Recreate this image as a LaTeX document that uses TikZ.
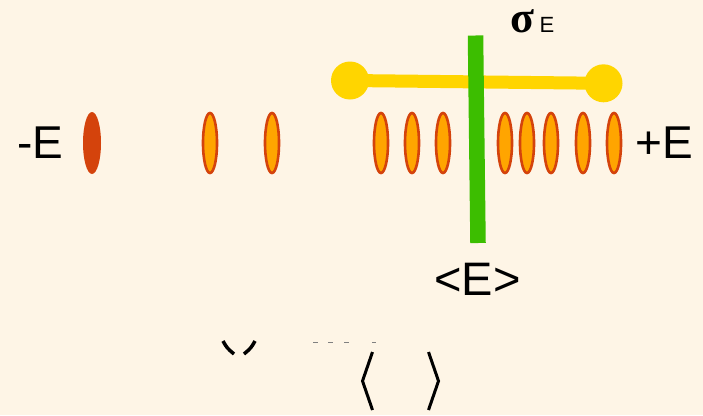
\documentclass[tikz,border=0pt]{standalone}
\usepackage{fontspec}
\setmainfont{Liberation Sans}
\newfontfamily\serifgreek{Liberation Serif}
\definecolor{bgc}{HTML}{FEF5E6}
\definecolor{ellfill}{HTML}{FFA500}
\definecolor{ellline}{HTML}{D4430C}
\definecolor{goldc}{HTML}{FFD500}
\definecolor{greenc}{HTML}{3CBE00}
\tikzset{
  cell/.style={ellipse, draw=ellline, line width=2.6pt, fill=ellfill, minimum width=14pt, minimum height=60pt, inner sep=0pt},
  darkcell/.style={ellipse, fill=ellline, minimum width=18pt, minimum height=62pt, inner sep=0pt},
  bigtxt/.style={font=\fontsize{46}{46}\selectfont, inner sep=0pt, anchor=base},
  glyph/.style={line width=3pt, line cap=butt, line join=miter},
}
\usetikzlibrary{shapes.geometric}
\begin{document}
\begin{tikzpicture}[x=1pt,y=-1pt]
\fill[bgc] (0,0) rectangle (703,415);
\useasboundingbox (0,0) rectangle (703,415);
% cells
\node[darkcell] (c0) at (92,143) {};
\foreach \i/\x in {1/210,2/272,3/381,4/412,5/443,6/505,7/527,8/551,9/583,10/614}
  \node[cell] (c\i) at (\x,143) {};
% yellow bar
\node[circle, fill=goldc, minimum size=38pt, inner sep=0pt] (yl) at (350,80.5) {};
\node[circle, fill=goldc, minimum size=38pt, inner sep=0pt] (yr) at (603.5,83.3) {};
\draw[goldc, line width=13pt] (yl.center) -- (yr.center);
% green bar
\coordinate (gt) at (475.5,35.5);
\coordinate (gb) at (478,243);
\draw[greenc, line width=15.5pt] (gt) -- (gb);
% labels
\node[bigtxt] (mE) at (40,158) {-E};
\node[bigtxt] (pE) at (664.5,158) {+E};
\node[bigtxt, font=\fontsize{47}{47}\selectfont] (mean) at (477.5,295) {<E>};
\node[inner sep=0pt, anchor=base west, text height=21pt, text depth=0pt] (sig) at (510.5,32) {\serifgreek\bfseries\fontsize{44}{44}\selectfont σ};
\node[inner sep=0pt, anchor=base west, font=\fontsize{22}{22}\selectfont] (sigE) at (539.5,32) {E};
% clipped glyph fragments at bottom
\draw[glyph, line width=3.5pt] (223,341) .. controls (227,348) .. (234,354);
\draw[glyph, line width=3.5pt] (255,341) .. controls (251,348) .. (244,354);
\foreach \a/\b in {313/318,328/333,344/349,372/376}
  \draw[gray, line width=0.8pt] (\a,342.5) -- (\b,342.5);
\draw[glyph] (372.5,352) -- (362.5,381) -- (372.5,410);
\draw[glyph] (428.5,352) -- (438.5,381) -- (428.5,410);
\end{tikzpicture}
\end{document}
